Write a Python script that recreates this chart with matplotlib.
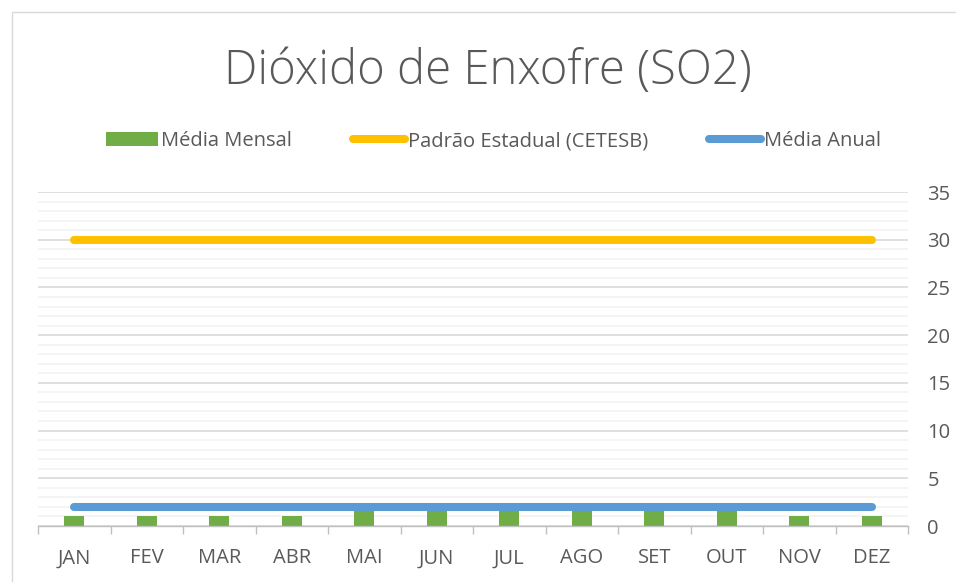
import matplotlib.pyplot as plt
from matplotlib.lines import Line2D
from matplotlib.patches import Patch, Rectangle
import numpy as np

meses = ["JAN", "FEV", "MAR", "ABR", "MAI", "JUN", "JUL", "AGO", "SET", "OUT", "NOV", "DEZ"]
media_mensal = [1, 1, 1, 1, 2, 2, 2, 2, 2, 2, 1, 1]
padrao_estadual = [30] * 12
media_anual = [2] * 12

plt.rcParams['font.family'] = ['Open Sans', 'DejaVu Sans']
txt = '#595959'

fig = plt.figure(figsize=(9.56, 5.82), dpi=100)
# light chart border (top and left edges visible)
fig.patches.append(Rectangle((12 / 956, -0.01), 1.2, (582 - 12) / 582 + 0.01,
                             transform=fig.transFigure, fill=False,
                             edgecolor='#d9d9d9', linewidth=1, zorder=-1))

ax = fig.add_axes([38 / 956, 1 - 526 / 582, (908 - 38) / 956, (526 - 192) / 582])
x = np.arange(len(meses))

ax.bar(x, media_mensal, width=0.27, color='#70ad47', zorder=2)
ax.plot(x, padrao_estadual, color='#ffc000', linewidth=5.8, solid_capstyle='round', zorder=3)
ax.plot(x, media_anual, color='#5b9bd5', linewidth=5.8, solid_capstyle='round', zorder=3)

ax.set_xlim(-0.5, len(meses) - 0.5)
ax.set_ylim(0, 35)
ax.yaxis.tick_right()
ax.set_yticks(np.arange(0, 36, 5))
ax.set_yticks(np.arange(0, 36, 1), minor=True)
ax.grid(axis='y', which='major', color='#d9d9d9', linewidth=1.2, zorder=0)
ax.grid(axis='y', which='minor', color='#f2f2f2', linewidth=1.2, zorder=0)
ax.tick_params(axis='y', which='both', length=0, labelsize=14.5, labelcolor=txt, pad=14)

ax.set_xticks(x)
ax.set_xticklabels(meses)
ax.set_xticks(np.arange(-0.5, len(meses), 1), minor=True)
ax.tick_params(axis='x', which='major', length=0, labelsize=14.5, labelcolor=txt, pad=16)
ax.tick_params(axis='x', which='minor', length=6, color='#bfbfbf', width=1)

for s in ['top', 'left', 'right']:
    ax.spines[s].set_visible(False)
ax.spines['bottom'].set_color('#bfbfbf')
ax.spines['bottom'].set_linewidth(1)

fig.text(487.5 / 956, 1 - 72 / 582, "Dióxido de Enxofre (SO2)", ha='center', va='center',
         fontsize=34, color=txt, fontweight='light')

handles = [
    Patch(facecolor='#70ad47', edgecolor='none'),
    Line2D([0], [0], color='#ffc000', linewidth=5.8, solid_capstyle='round'),
    Line2D([0], [0], color='#5b9bd5', linewidth=5.8, solid_capstyle='round'),
]
labels = ["Média Mensal", "Padrão Estadual (CETESB)", "Média Anual"]
fig.legend(handles, labels, loc='center', bbox_to_anchor=(493.5 / 956, 1 - 141 / 582), ncol=3,
           frameon=False, fontsize=14.5, labelcolor=txt, handlelength=2.6,
           handletextpad=0.15, columnspacing=3.0, handleheight=0.75)

fig.savefig("out.png", dpi=100)
